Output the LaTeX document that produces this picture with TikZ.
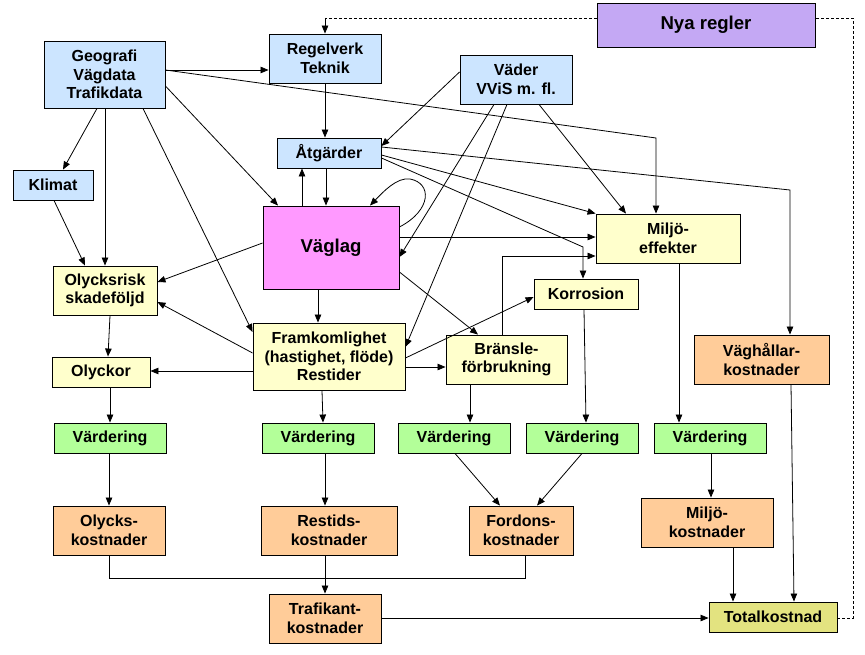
\documentclass[tikz,border=0pt]{standalone}
\usepackage{fontspec}
\setmainfont{Liberation Sans}
\usetikzlibrary{arrows.meta}
\definecolor{cblue}{RGB}{204,229,255}
\definecolor{cyel}{RGB}{255,255,204}
\definecolor{cmag}{RGB}{255,153,255}
\definecolor{cpur}{RGB}{196,168,244}
\definecolor{cgrn}{RGB}{179,255,153}
\definecolor{corg}{RGB}{255,204,153}
\definecolor{ctot}{RGB}{227,227,128}
\tikzset{
  box/.style={draw, line width=0.9pt, inner sep=0pt, align=center,
    font=\fontsize{16}{18.5}\selectfont\bfseries},
  bigbox/.style={box, font=\fontsize{18.6}{21}\selectfont\bfseries},
  arr/.style={line width=0.8pt, -{Triangle[length=8pt,width=6.5pt]}},
  ln/.style={line width=0.8pt},
  dline/.style={line width=0.8pt, dash pattern=on 3pt off 2pt},
}
\begin{document}
\begin{tikzpicture}[x=1pt,y=-1pt]
\useasboundingbox (0,0) rectangle (865,655);
% nodes
\node[bigbox, fill=cpur, minimum width=218, minimum height=44] (nya) at (706,25) {Nya regler};
\node[box, fill=cblue, minimum width=112, minimum height=49] (reg) at (325,58.5) {Regelverk\\Teknik};
\node[box, fill=cblue, minimum width=121, minimum height=67] (geo) at (104.5,74.5) {Geografi\\Vägdata\\Trafikdata};
\node[box, fill=cblue, minimum width=112, minimum height=49] (vad) at (516,79.5) {Väder\\VViS m. fl.};
\node[box, fill=cblue, minimum width=104, minimum height=30] (atg) at (329,153) {Åtgärder};
\node[box, fill=cblue, minimum width=80, minimum height=30] (kli) at (53,185) {Klimat};
\node[bigbox, fill=cmag, minimum width=136, minimum height=83] (vag) at (331,247.5) {Väglag};
\node[box, fill=cyel, minimum width=144, minimum height=49] (mil) at (668,238.5) {Miljö-\\effekter};
\node[box, fill=cyel, minimum width=104, minimum height=49] (oly) at (105,290.5) {Olycksrisk\\skadeföljd};
\node[box, fill=cyel, minimum width=104, minimum height=30] (kor) at (586,294) {Korrosion};
\node[box, fill=cyel, minimum width=152, minimum height=67] (fra) at (329,356.5) {Framkomlighet\\(hastighet, flöde)\\Restider};
\node[box, fill=cyel, minimum width=121, minimum height=49] (bra) at (506.5,359.5) {Bränsle-\\förbrukning};
\node[box, fill=corg, minimum width=135, minimum height=49] (vah) at (761.5,359.5) {Väghållar-\\kostnader};
\node[box, fill=cyel, minimum width=98, minimum height=30] (olk) at (101,372) {Olyckor};
\node[box, fill=cgrn, minimum width=112, minimum height=30] (v1) at (110,438) {Värdering};
\node[box, fill=cgrn, minimum width=112, minimum height=30] (v2) at (318,438) {Värdering};
\node[box, fill=cgrn, minimum width=112, minimum height=30] (v3) at (454,438) {Värdering};
\node[box, fill=cgrn, minimum width=112, minimum height=30] (v4) at (582,438) {Värdering};
\node[box, fill=cgrn, minimum width=112, minimum height=30] (v5) at (710,438) {Värdering};
\node[box, fill=corg, minimum width=112, minimum height=49] (okost) at (109,530.5) {Olycks-\\kostnader};
\node[box, fill=corg, minimum width=136, minimum height=49] (rkost) at (329,530.5) {Restids-\\kostnader};
\node[box, fill=corg, minimum width=104, minimum height=49] (fkost) at (521,530.5) {Fordons-\\kostnader};
\node[box, fill=corg, minimum width=132, minimum height=49] (mkost) at (707,522.5) {Miljö-\\kostnader};
\node[box, fill=corg, minimum width=112, minimum height=49] (tkost) at (325,618.5) {Trafikant-\\kostnader};
\node[box, fill=ctot, minimum width=128, minimum height=30] (tot) at (773,617) {Totalkostnad};
% bend coordinates
\coordinate (b1) at (656,138);
\coordinate (b2) at (583,247);
\coordinate (b3) at (790,190);
\coordinate (b4) at (502,256);
\coordinate (b5) at (109,578);
\coordinate (b6) at (525,578);
\coordinate (b7) at (853,618);
\coordinate (b8) at (853,18);
\coordinate (b9) at (325,18);
% connectors
\draw[arr] (geo.east |- 0,70) -- (reg.west |- 0,70);
\draw[arr] (geo.east |- 0,70) -- (b1) -- (mil.north -| b1);
\draw[arr] (geo.east |- 0,86) -- (vag.north -| 278,0);
\draw[arr] (geo.south -| 143,0) -- (fra.west |- 0,332);
\draw[arr] (geo.south -| 97,0) -- (kli.north -| 63,0);
\draw[arr] (geo.south -| 105,0) -- (oly.north -| 105,0);
\draw[arr] (kli.south -| 54,0) -- (oly.north -| 85,0);
\draw[arr] (reg.south) -- (atg.north -| reg.south);
\draw[arr] (vad.west |- 0,72) -- (atg.east |- 0,146);
\draw[arr] (vad.south -| 494,0) -- (vag.east |- 0,257);
\draw[arr] (vad.south -| 507,0) -- (fra.east |- 0,347);
\draw[arr] (vad.south -| 539,0) -- (mil.north -| 626,0);
\draw[arr] (atg.east |- 0,155) -- (mil.north west);
\draw[arr] (atg.east |- 0,158) -- (b2) -- (kor.north -| b2);
\draw[arr] (atg.east |- 0,147) -- (b3) -- (vah.north -| b3);
\draw[arr] (atg.south -| 326,0) -- (vag.north -| 326,0);
\draw[arr] (vag.north -| 302,0) -- (atg.south -| 302,0);
\draw[arr] (vag.east |- 0,227) .. controls (432,210) and (432,183) .. (410,179) .. controls (397,177) and (383,192) .. (vag.north -| 370,0);
\draw[arr] (vag.east |- 0,237) -- (mil.west |- 0,237);
\draw[arr] (vag.east |- 0,272) -- (bra.north -| 478,0);
\draw[arr] (vag.south -| 318,0) -- (fra.north -| 318,0);
\draw[arr] (vag.west |- 0,243) -- (oly.east |- 0,282);
\draw[arr] (fra.west |- 0,353) -- (oly.east |- 0,302);
\draw[arr] (fra.west |- 0,371) -- (olk.east |- 0,371);
\draw[arr] (fra.east |- 0,367) -- (bra.west |- 0,367);
\draw[arr] (fra.east |- 0,358) -- (kor.west |- 0,297);
\draw[arr] (fra.south -| 322,0) -- (v2.north -| 323,0);
\draw[arr] (oly.south -| 110,0) -- (olk.north -| 108,0);
\draw[arr] (olk.south -| 110,0) -- (v1.north -| 110,0);
\draw[arr] (bra.north -| b4) -- (b4) -- (mil.west |- b4);
\draw[arr] (bra.south -| 470,0) -- (v3.north -| 470,0);
\draw[arr] (kor.south -| 584,0) -- (v4.north -| 586,0);
\draw[arr] (mil.south -| 679,0) -- (v5.north -| 679,0);
\draw[arr] (v1.south -| 109,0) -- (okost.north -| 109,0);
\draw[arr] (v2.south -| 325,0) -- (rkost.north -| 325,0);
\draw[arr] (v3.south -| 455,0) -- (fkost.north -| 500,0);
\draw[arr] (v4.south -| 582,0) -- (fkost.north -| 537,0);
\draw[arr] (v5.south -| 711,0) -- (mkost.north -| 711,0);
\draw[arr] (vah.south -| 791,0) -- (tot.north -| 794,0);
\draw[arr] (mkost.south -| 733,0) -- (tot.north -| 733,0);
\draw[arr] (tkost.east |- 0,618) -- (tot.west |- 0,618);
\draw[ln] (okost.south -| b5) -- (b5) -- (b6) -- (fkost.south -| b6);
\draw[arr] (rkost.south -| 325,0) -- (tkost.north -| 325,0);
\draw[dline] (tot.east |- b7) -- (b7) -- (b8) -- (nya.east |- b8);
\draw[dline] (nya.west |- b9) -- (b9);
\draw[arr] (b9) -- (reg.north -| b9);
\end{tikzpicture}
\end{document}
